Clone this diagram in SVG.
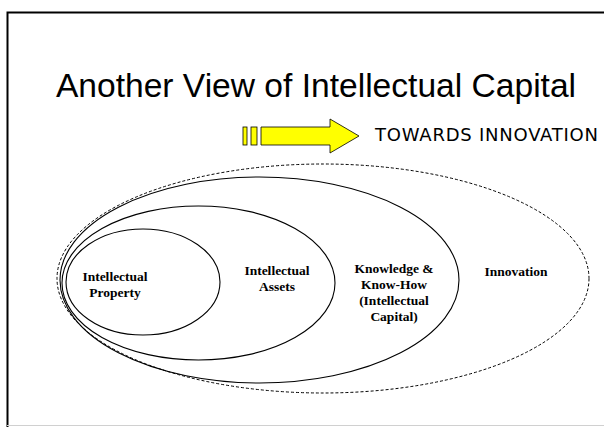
<svg xmlns="http://www.w3.org/2000/svg" width="604" height="427" viewBox="0 0 604 427">
<style>
.lbl{font-family:"Liberation Serif","Times New Roman",serif;font-weight:bold;font-size:13.5px;text-anchor:middle;fill:#000}
.ring{fill:none;stroke:#000;stroke-width:1.1}
</style>
<rect width="604" height="427" fill="#fff"/>
<g id="frame">
<path d="M7.5,427 V12.5 H604" fill="none" stroke="#000" stroke-width="2"/>
<line x1="7" y1="425.5" x2="604" y2="425.5" stroke="#d0d0d0" stroke-width="1"/>
</g>
<g id="title">
<text x="316" y="97" font-family="Liberation Sans, Arial, sans-serif" font-size="33.6" text-anchor="middle">Another View of Intellectual Capital</text>
</g>
<g id="towards">
<rect x="243" y="127" width="4" height="18" fill="#ff0" stroke="#000" stroke-width="0.8"/>
<rect x="251" y="127" width="6" height="18" fill="#ff0" stroke="#000" stroke-width="0.8"/>
<path d="M261,127 H330 V119 L359,136 L330,153 V145 H261 Z" fill="#ff0" stroke="#000" stroke-width="0.8"/>
<text x="375" y="141" font-family="DejaVu Sans, Verdana, sans-serif" font-size="18" textLength="223">TOWARDS INNOVATION</text>
</g>
<g id="connectors"></g>
<g id="innovation">
<ellipse cx="323" cy="278.5" rx="266" ry="114.5" fill="none" stroke="#000" stroke-width="1" stroke-dasharray="3,2"/>
<text class="lbl" x="516" y="276">Innovation</text>
</g>
<g id="knowledge">
<ellipse class="ring" cx="259.5" cy="280" rx="199.5" ry="103"/>
<text class="lbl" x="394" y="273">Knowledge &amp;</text>
<text class="lbl" x="394" y="289">Know-How</text>
<text class="lbl" x="394" y="305">(Intellectual</text>
<text class="lbl" x="394" y="321">Capital)</text>
</g>
<g id="assets">
<ellipse class="ring" cx="198.5" cy="283" rx="136.5" ry="77"/>
<text class="lbl" x="277" y="275">Intellectual</text>
<text class="lbl" x="277" y="291">Assets</text>
</g>
<g id="property">
<ellipse class="ring" cx="143" cy="282" rx="77" ry="53"/>
<text class="lbl" x="115" y="281">Intellectual</text>
<text class="lbl" x="115" y="297">Property</text>
</g>
</svg>
